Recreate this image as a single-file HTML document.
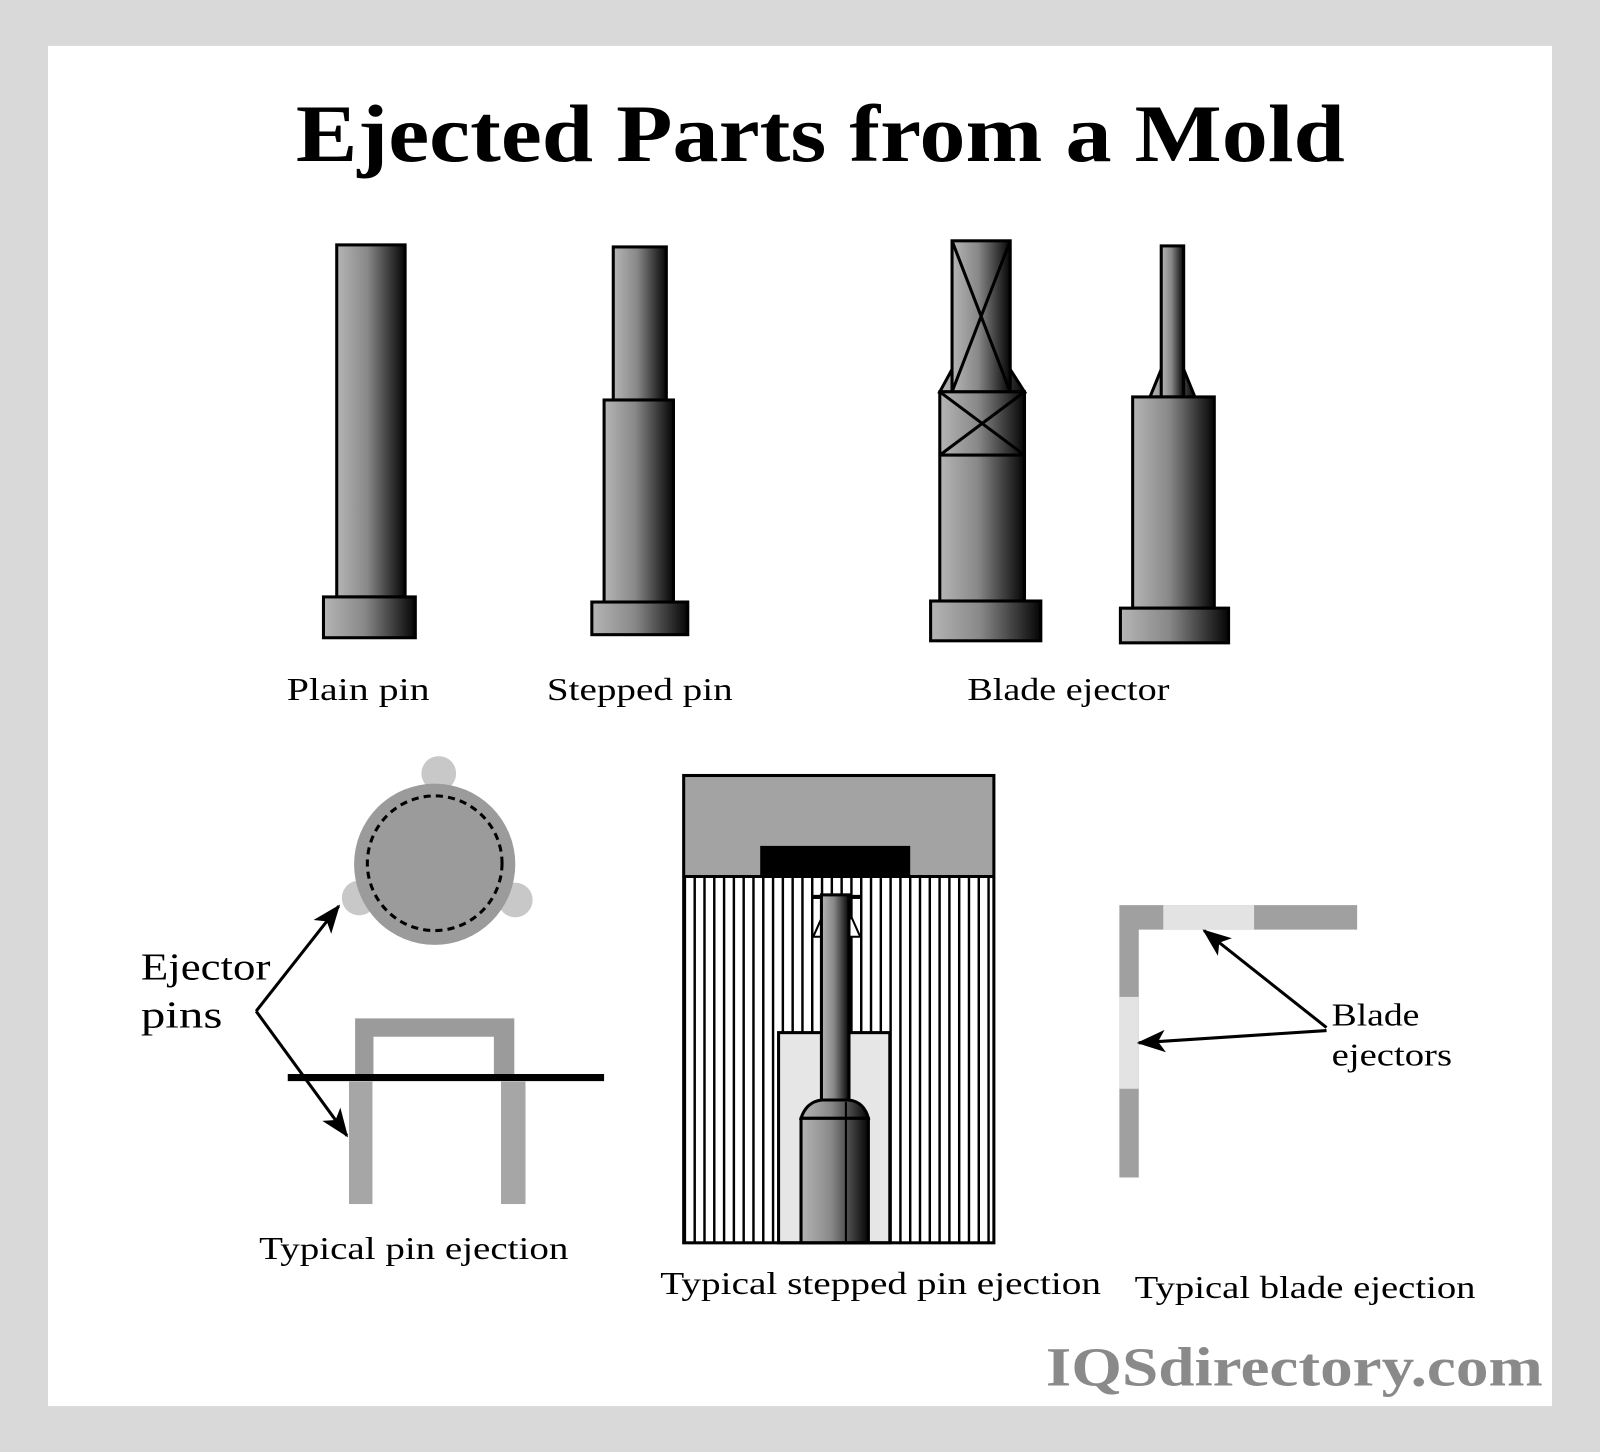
<!DOCTYPE html>
<html><head><meta charset="utf-8"><style>
html,body{margin:0;padding:0;background:#d9d9d9}
svg{display:block}
</style></head><body>
<svg width="1600" height="1452" viewBox="0 0 1568 1423" preserveAspectRatio="none" xmlns="http://www.w3.org/2000/svg">
<defs>
<linearGradient id="g" x1="0" x2="1" y1="0" y2="0">
<stop offset="0" stop-color="#b5b5b5"/><stop offset="0.45" stop-color="#888"/><stop offset="1" stop-color="#050505"/>
</linearGradient>
<pattern id="st" x="670" y="0" width="9.6" height="10" patternUnits="userSpaceOnUse">
<rect width="9.6" height="10" fill="#fff"/><rect x="0" width="2.4" height="10" fill="#000"/>
</pattern>
<marker id="ar" viewBox="0 0 28 22" refX="26" refY="11" markerWidth="28" markerHeight="22" markerUnits="userSpaceOnUse" orient="auto">
<path d="M0,0 L28,11 L0,22 L7,11 Z" fill="#000"/>
</marker>
</defs>
<rect width="1568" height="1423" fill="#d9d9d9"/>
<rect x="47" y="45" width="1474" height="1333" fill="#fff"/>
<text x="290" y="158" font-family="Liberation Serif, serif" font-weight="bold" font-size="80" textLength="1028" lengthAdjust="spacingAndGlyphs">Ejected Parts from a Mold</text>

<g stroke="#000" stroke-width="3" fill="url(#g)">
<rect x="330" y="240" width="67" height="345"/>
<rect x="317" y="585" width="90" height="40"/>
<rect x="601" y="242" width="52" height="150"/>
<rect x="592" y="392" width="68" height="200"/>
<rect x="580" y="590" width="94" height="32"/>
<path d="M933,362 L921,384 L1004,384 L990,362 Z"/>
<rect x="933" y="236" width="57" height="148"/>
<rect x="921" y="384" width="83" height="205"/>
<rect x="912" y="589" width="108" height="39"/>
<path d="M1138,362 L1127,389 L1171,389 L1160,362 Z"/>
<rect x="1138" y="241" width="22" height="148"/>
<rect x="1110" y="389" width="80" height="207"/>
<rect x="1098" y="596" width="106" height="34"/>
</g>
<g stroke="#000" stroke-width="3" fill="none">
<path d="M933,236 L990,384 M990,236 L933,384"/>
<path d="M921,446 L1004,446 M921,384 L1004,446 M1004,384 L921,446"/>
</g>
<g font-family="Liberation Serif, serif" font-size="31" fill="#000">
<text x="281" y="686" textLength="140" lengthAdjust="spacingAndGlyphs">Plain pin</text>
<text x="536" y="686" textLength="182" lengthAdjust="spacingAndGlyphs">Stepped pin</text>
<text x="948" y="686" textLength="198" lengthAdjust="spacingAndGlyphs">Blade ejector</text>
<text x="254" y="1234" textLength="303" lengthAdjust="spacingAndGlyphs">Typical pin ejection</text>
<text x="647" y="1268" textLength="432" lengthAdjust="spacingAndGlyphs">Typical stepped pin ejection</text>
<text x="1112" y="1272" textLength="334" lengthAdjust="spacingAndGlyphs">Typical blade ejection</text>
<text x="138" y="960" font-size="37" textLength="127" lengthAdjust="spacingAndGlyphs">Ejector</text>
<text x="138" y="1007" font-size="37" textLength="80" lengthAdjust="spacingAndGlyphs">pins</text>
<text x="1305" y="1005" textLength="86" lengthAdjust="spacingAndGlyphs">Blade</text>
<text x="1305" y="1044" textLength="118" lengthAdjust="spacingAndGlyphs">ejectors</text>
</g>

<circle cx="430" cy="758" r="17" fill="#c8c8c8"/>
<circle cx="352" cy="880" r="17" fill="#c8c8c8"/>
<circle cx="505" cy="882" r="17" fill="#c8c8c8"/>
<circle cx="426" cy="847" r="79" fill="#9b9b9b"/>
<circle cx="426" cy="846" r="66" fill="none" stroke="#000" stroke-width="3" stroke-dasharray="7,5"/>
<path d="M348,1055 V998 H504 V1055 H484 V1016 H366 V1055 Z" fill="#9b9b9b"/>
<rect x="342" y="1060" width="23" height="120" fill="#a6a6a6"/>
<rect x="491" y="1060" width="24" height="120" fill="#a6a6a6"/>
<line x1="282" y1="1056" x2="592" y2="1056" stroke="#000" stroke-width="7"/>
<polyline points="251,991 340,1113" fill="none" stroke="#000" stroke-width="3" marker-end="url(#ar)"/>
<polyline points="251,991 332,888" fill="none" stroke="#000" stroke-width="3" marker-end="url(#ar)"/>

<rect x="670" y="859" width="304" height="359" fill="url(#st)"/>
<rect x="670" y="760" width="304" height="99" fill="#a3a3a3"/>
<rect x="745" y="829" width="147" height="30" fill="#000"/>
<rect x="763" y="1012" width="109" height="206" fill="#e6e6e6" stroke="#000" stroke-width="3"/>
<rect x="797" y="877" width="46" height="4" fill="#000"/>
<path d="M805,900 L797,918 L843,918 L835,900 Z" fill="#fff" stroke="#000" stroke-width="2"/>
<rect x="805" y="877" width="27" height="210" fill="url(#g)" stroke="#000" stroke-width="3"/>
<path d="M785,1096 Q790,1080 805,1078 L832,1078 Q847,1080 851,1096 Z" fill="url(#g)" stroke="#000" stroke-width="3"/>
<rect x="785" y="1096" width="66" height="122" fill="url(#g)" stroke="#000" stroke-width="3"/>
<line x1="829" y1="1080" x2="829" y2="1218" stroke="#000" stroke-width="2"/>
<rect x="670" y="760" width="304" height="458" fill="none" stroke="#000" stroke-width="3"/>
<line x1="670" y1="859" x2="974" y2="859" stroke="#000" stroke-width="3"/>

<path d="M1097,887 H1330 V911 H1116 V1154 H1097 Z" fill="#a0a0a0"/>
<rect x="1140" y="887" width="89" height="24" fill="#e3e3e3"/>
<rect x="1097" y="977" width="19" height="90" fill="#e3e3e3"/>
<line x1="1300" y1="1007" x2="1180" y2="912" stroke="#000" stroke-width="3" marker-end="url(#ar)"/>
<line x1="1300" y1="1010" x2="1116" y2="1022" stroke="#000" stroke-width="3" marker-end="url(#ar)"/>

<text x="1025" y="1358" font-family="Liberation Serif, serif" font-weight="bold" font-size="54" fill="#8a8a8a" textLength="487" lengthAdjust="spacingAndGlyphs">IQSdirectory.com</text>
</svg>
</body></html>
